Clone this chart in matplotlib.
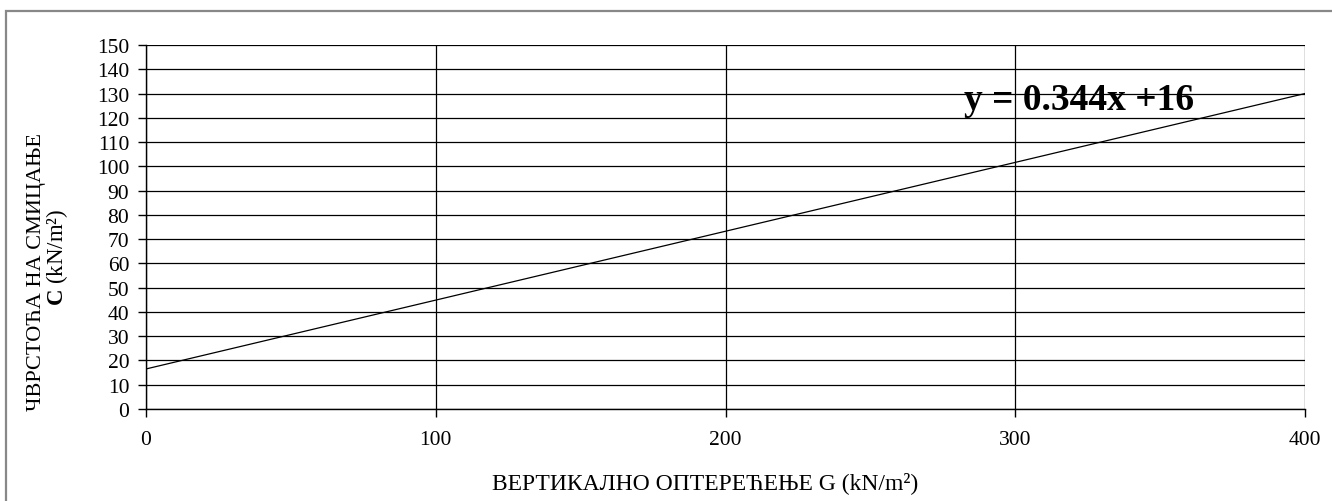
import matplotlib
matplotlib.use("Agg")
import matplotlib.pyplot as plt
from matplotlib.patches import Rectangle

# Data
line_x = [0, 400]
line_y = [16.5, 130]
x_ticks = [0, 100, 200, 300, 400]
y_ticks = list(range(0, 151, 10))
equation = "y = 0.344x +16"
x_label = "ВЕРТИКАЛНО ОПТЕРЕЋЕЊЕ G (kN/m²)"
y_label_1 = "ЧВРСТОЋА НА СМИЦАЊЕ"
y_label_2 = r"$\mathbf{C}$ (kN/m²)"

plt.rcParams['font.family'] = ['Liberation Serif', 'DejaVu Serif']
plt.rcParams['mathtext.fontset'] = 'custom'
plt.rcParams['mathtext.rm'] = 'Liberation Serif'
plt.rcParams['mathtext.bf'] = 'Liberation Serif:bold'

W, H = 1332, 502
fig = plt.figure(figsize=(W / 100, H / 100), dpi=100)
fig.patch.set_facecolor('white')

# outer gray frame (only top/left visible)
fig.patches.append(Rectangle((6 / W, -0.5), 2, (H - 12) / H + 0.5, transform=fig.transFigure,
                             fill=False, edgecolor='#888888', linewidth=1.6))

left, right, top, bottom = 146, 1305, 46, 410
ax = fig.add_axes([left / W, (H - bottom) / H, (right - left) / W, (bottom - top) / H])

ax.plot(line_x, line_y, color='black', linewidth=0.9)

ax.set_xlim(0, 400)
ax.set_ylim(0, 150)
ax.set_xticks(x_ticks)
ax.set_yticks(y_ticks)
ax.tick_params(axis='both', direction='out', length=6, width=1, colors='black', labelsize=15.5)
ax.tick_params(axis='y', pad=6)
ax.tick_params(axis='x', pad=9)
ax.grid(True, color='black', linewidth=0.9)
ax.set_axisbelow(True)
for s in ['top', 'right']:
    ax.spines[s].set_visible(False)
for s in ['left', 'bottom']:
    ax.spines[s].set_linewidth(1.0)
    ax.spines[s].set_color('black')

ax.text(282.3, 123.6, equation, fontsize=27, fontweight='bold', ha='left', va='baseline',
        color='black')

fig.text(705 / W, 1 - 483 / H, x_label, ha='center', va='center', fontsize=17)
fig.text(37 / W, 1 - 272 / H, y_label_1, ha='center', va='center', rotation=90, fontsize=16)
fig.text(57 / W, 1 - 257 / H, y_label_2, ha='center', va='center', rotation=90, fontsize=16.5)

fig.savefig('out.png', dpi=100)
